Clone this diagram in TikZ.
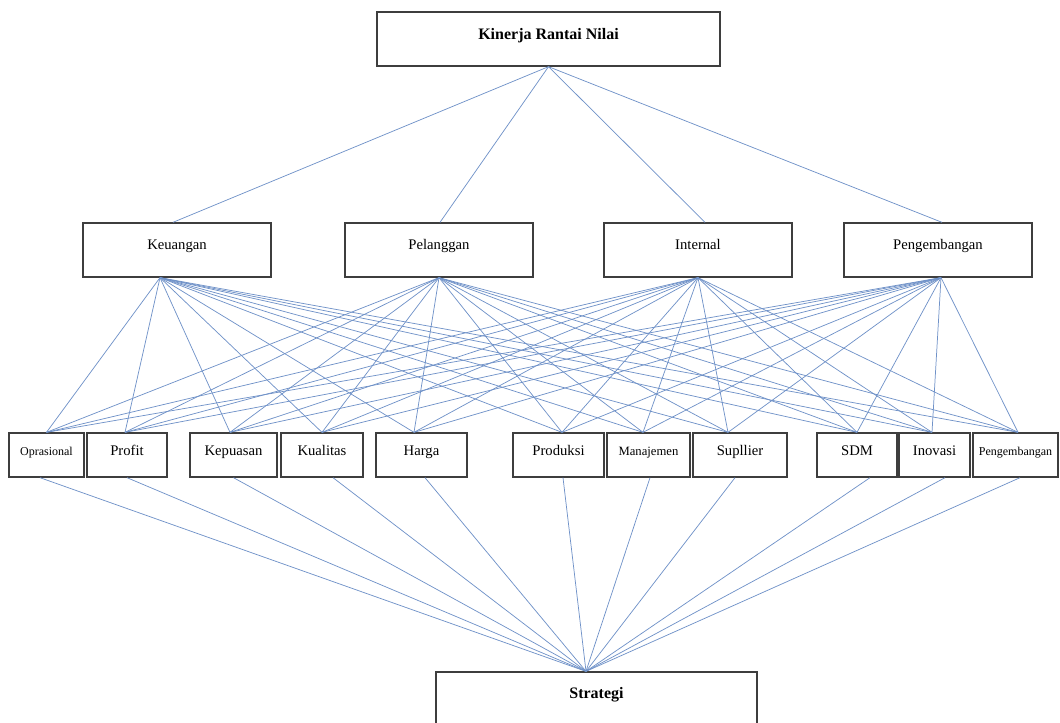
\documentclass[tikz,border=0pt]{standalone}
\usepackage{fontspec}
\setmainfont{Liberation Serif}
\usetikzlibrary{calc}
\definecolor{linkblue}{RGB}{112,146,200}
\definecolor{boxline}{RGB}{62,62,62}
\begin{document}
\begin{tikzpicture}[x=0.75pt,y=-0.75pt,
  box/.style n args={3}{draw=boxline, line width=1pt, fill=white, inner sep=0pt,
    minimum width=#1*0.75pt, minimum height=#2*0.75pt,
    text height=0.7em, text depth=#3},
  headfont/.style={font=\bfseries\fontsize{12}{14}\selectfont},
  midfont/.style={font=\fontsize{11}{13}\selectfont},
  smallfont/.style={font=\fontsize{9}{11}\selectfont},
  link/.style={draw=linkblue, line width=0.55pt}]
\useasboundingbox (0,0) rectangle (1060,722);

% goal
\node[box={343}{54}{6pt}, headfont] (top) at (548.5,39) {Kinerja Rantai Nilai};

% perspectives
\node[box={188}{54}{7.5pt}, midfont] (keu) at (177,250) {Keuangan};
\node[box={188}{54}{7.5pt}, midfont] (pel) at (439,250) {Pelanggan};
\node[box={188}{54}{7.5pt}, midfont] (int) at (698,250) {Internal};
\node[box={188}{54}{7.5pt}, midfont] (pgb) at (938,250) {Pengembangan};

% criteria
\node[box={75}{44}{6pt}, smallfont] (op) at (46.5,455) {Oprasional};
\node[box={80}{44}{6pt}, midfont] (pr) at (127,455) {Profit};
\node[box={87}{44}{6pt}, midfont] (kp) at (233.5,455) {Kepuasan};
\node[box={82}{44}{6pt}, midfont] (ku) at (322,455) {Kualitas};
\node[box={91}{44}{6pt}, midfont] (hg) at (421.5,455) {Harga};
\node[box={91}{44}{6pt}, midfont] (pd) at (558.5,455) {Produksi};
\node[box={83}{44}{6pt}, font=\fontsize{9.5}{11}\selectfont] (mj) at (648.5,455) {Manajemen};
\node[box={94}{44}{6pt}, midfont] (sp) at (740,455) {Supllier};
\node[box={80}{44}{6pt}, midfont] (sd) at (857,455) {SDM};
\node[box={71}{44}{6pt}, midfont] (ino) at (934.5,455) {Inovasi};
\node[box={85}{44}{6pt}, smallfont] (pg) at (1015.5,455) {Pengembangan};

% alternative
\node[box={321}{68}{18pt}, headfont] (str) at (596.5,706) {Strategi};

% attachment points
\coordinate (top-o) at (top.south);
\coordinate (keu-i) at ($(keu.north)+(-4,0)$);
\coordinate (pel-i) at ($(pel.north)+(1,0)$);
\coordinate (int-i) at ($(int.north)+(7,0)$);
\coordinate (pgb-i) at ($(pgb.north)+(4,0)$);
\coordinate (keu-o) at ($(keu.south)+(-17,0)$);
\coordinate (pel-o) at (pel.south);
\coordinate (int-o) at (int.south);
\coordinate (pgb-o) at ($(pgb.south)+(3,0)$);

\coordinate (op-i) at (op.north);        \coordinate (op-o) at ($(op.south)+(-6.5,0)$);
\coordinate (pr-i) at ($(pr.north)+(-2,0)$); \coordinate (pr-o) at (pr.south);
\coordinate (kp-i) at ($(kp.north)+(-3.5,0)$); \coordinate (kp-o) at (kp.south);
\coordinate (ku-i) at (ku.north);        \coordinate (ku-o) at ($(ku.south)+(11,0)$);
\coordinate (hg-i) at ($(hg.north)+(-7.5,0)$); \coordinate (hg-o) at ($(hg.south)+(3.5,0)$);
\coordinate (pd-i) at ($(pd.north)+(3.5,0)$);  \coordinate (pd-o) at ($(pd.south)+(4.5,0)$);
\coordinate (mj-i) at ($(mj.north)+(-5.5,0)$); \coordinate (mj-o) at ($(mj.south)+(1.5,0)$);
\coordinate (sp-i) at ($(sp.north)+(-12,0)$);  \coordinate (sp-o) at ($(sp.south)+(-5,0)$);
\coordinate (sd-i) at (sd.north);        \coordinate (sd-o) at ($(sd.south)+(13,0)$);
\coordinate (ino-i) at ($(ino.north)+(-2.5,0)$); \coordinate (ino-o) at ($(ino.south)+(10.5,0)$);
\coordinate (pg-i) at ($(pg.north)+(2.5,0)$);  \coordinate (pg-o) at ($(pg.south)+(4.5,0)$);
\coordinate (str-i) at ($(str.north)+(-10.5,0)$);

% goal to perspectives
\foreach \p in {keu,pel,int,pgb}
  \draw[link] (top-o) -- (\p-i);

% perspectives to criteria
\foreach \p in {keu,pel,int,pgb}
  \foreach \c in {op,pr,kp,ku,hg,pd,mj,sp,sd,ino,pg}
    \draw[link] (\p-o) -- (\c-i);

% criteria to alternative
\foreach \c in {op,pr,kp,ku,hg,pd,mj,sp,sd,ino,pg}
  \draw[link] (\c-o) -- (str-i);
\end{tikzpicture}
\end{document}
